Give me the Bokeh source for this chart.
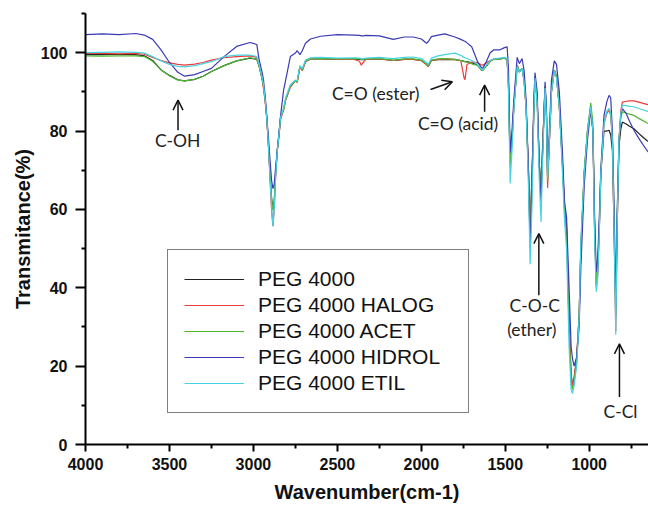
from bokeh.plotting import figure
from bokeh.models import (Range1d, FixedTicker, Legend, LegendItem, Label,
                          Arrow, OpenHead)
from bokeh.embed import file_html
from bokeh.resources import INLINE

# ---------------- data ----------------
wavenumber = [4000, 3900, 3800, 3700, 3650, 3600, 3550, 3500, 3450, 3410,
              3350, 3300, 3250, 3175, 3100, 3020, 2980, 2966, 2947, 2940,
              2930, 2920, 2910, 2900, 2892, 2884, 2876, 2868, 2858, 2848,
              2838, 2820, 2808, 2780, 2750, 2739, 2723, 2709, 2690, 2660,
              2600, 2500, 2400, 2368, 2358, 2345, 2330, 2250, 2167, 2100,
              2048, 2000, 1969, 1959, 1940, 1900, 1860, 1800, 1765, 1745,
              1740, 1728, 1700, 1692, 1665, 1643, 1635, 1613, 1590, 1570,
              1534, 1505, 1489, 1481, 1471, 1460, 1449, 1429, 1416, 1400,
              1388, 1376, 1362, 1352, 1340, 1330, 1323, 1310, 1298, 1287,
              1278, 1263, 1255, 1248, 1240, 1225, 1208, 1195, 1178, 1160,
              1147, 1135, 1120, 1108, 1100, 1090, 1075, 1060, 1050, 1030,
              1010, 991, 978, 968, 958, 950, 940, 931, 912, 895,
              882, 872, 862, 852, 842, 834, 823, 812, 803, 780,
              760, 734, 700, 657, 647]

peg_4000 = [99.5, 99.5, 99.6, 99.5, 99.2, 98.0, 95.6, 94.2, 93.1, 92.8,
            93.2, 94.0, 95.2, 96.7, 97.9, 98.6, 98.3, 96.5, 93.1, 91.3,
            88.0, 83.0, 76.0, 68.0, 63.0, 60.0, 62.0, 69.0, 75.0, 79.0,
            83.5, 85.5, 88.0, 91.4, 92.8, 92.6, 96.4, 95.6, 97.8, 98.4,
            98.4, 98.3, 98.3, 98.3, 98.2, 98.2, 98.3, 98.4, 98.0, 98.3,
            98.3, 98.0, 97.0, 96.5, 98.0, 98.2, 98.3, 98.2, 98.0, 97.8,
            97.7, 97.7, 97.4, 97.3, 96.8, 95.6, 95.5, 96.6, 97.8, 98.3,
            98.4, 98.6, 98.3, 92.0, 72.0, 78.0, 86.2, 96.8, 95.1, 96.0,
            93.0, 86.2, 70.0, 54.0, 70.0, 85.0, 93.8, 88.0, 72.0, 64.0,
            75.0, 91.3, 85.0, 68.0, 75.0, 90.0, 95.5, 94.0, 86.2, 72.0,
            60.0, 55.0, 30.0, 18.0, 15.0, 17.0, 22.0, 33.0, 50.0, 69.0,
            80.0, 86.2, 80.0, 55.0, 41.0, 44.0, 55.0, 69.0, 80.0, 80.0,
            80.2, 79.0, 75.0, 55.0, 33.0, 55.0, 76.0, 80.5, 82.3, 81.8,
            81.2, 80.6, 79.2, 77.6, 77.3]

peg_halog = [99.8, 99.8, 99.7, 99.8, 99.6, 98.8, 98.0, 97.4, 97.0, 96.8,
             97.1, 97.5, 98.1, 98.7, 99.0, 99.2, 98.8, 96.8, 93.0, 90.9,
             87.5, 83.0, 76.0, 67.0, 60.0, 55.7, 60.0, 68.0, 75.0, 78.5,
             83.0, 85.5, 88.0, 91.2, 92.8, 92.4, 96.3, 95.4, 97.6, 98.4,
             98.5, 98.3, 98.3, 97.8, 96.8, 97.6, 98.3, 98.4, 98.0, 98.3,
             98.3, 98.0, 97.0, 96.5, 98.0, 98.3, 98.4, 98.3, 98.0, 93.5,
             93.1, 97.0, 97.6, 97.6, 97.4, 96.9, 96.8, 97.4, 98.0, 98.3,
             98.4, 98.6, 98.3, 92.0, 72.0, 78.0, 86.2, 96.8, 95.1, 96.0,
             93.0, 86.2, 70.0, 55.0, 70.0, 85.0, 93.8, 88.0, 72.0, 65.0,
             76.0, 91.3, 84.0, 65.5, 74.0, 90.0, 95.5, 94.0, 86.2, 72.0,
             61.0, 56.0, 32.0, 18.0, 15.0, 17.0, 22.0, 33.0, 50.0, 69.0,
             80.0, 86.2, 80.0, 55.0, 40.0, 43.0, 55.0, 69.0, 81.9, 84.5,
             85.3, 84.0, 77.6, 55.0, 29.0, 55.0, 77.6, 85.0, 87.4, 87.6,
             87.7, 87.7, 87.3, 86.8, 86.7]

peg_acet = [99.2, 99.1, 99.2, 99.2, 99.0, 97.8, 95.6, 94.1, 93.0, 92.8,
            93.2, 94.0, 95.2, 96.7, 97.9, 98.7, 98.3, 96.5, 93.1, 91.4,
            88.0, 83.5, 76.5, 68.5, 63.0, 59.8, 62.0, 69.0, 75.0, 79.0,
            83.7, 85.4, 88.0, 91.5, 92.8, 92.6, 96.5, 95.6, 97.8, 98.4,
            98.5, 98.4, 98.5, 98.4, 98.3, 98.3, 98.4, 98.5, 98.1, 98.4,
            98.4, 98.1, 97.1, 96.6, 98.1, 98.4, 98.5, 98.3, 98.0, 97.8,
            97.7, 97.6, 97.2, 97.0, 96.8, 95.6, 95.5, 96.6, 97.8, 98.3,
            98.4, 98.6, 98.3, 92.0, 71.0, 77.0, 86.2, 96.8, 95.1, 96.0,
            93.0, 86.2, 69.0, 52.0, 68.0, 85.0, 93.8, 88.0, 72.0, 64.0,
            75.0, 91.3, 85.0, 67.0, 75.0, 90.0, 95.5, 94.0, 86.2, 72.0,
            59.8, 54.0, 30.0, 16.0, 14.0, 16.0, 21.0, 33.0, 50.0, 70.0,
            80.5, 87.2, 82.0, 57.0, 41.0, 45.0, 56.0, 70.0, 82.0, 85.0,
            85.7, 84.5, 78.0, 60.0, 36.0, 58.0, 77.6, 83.5, 84.9, 84.6,
            84.3, 84.0, 83.1, 82.1, 81.9]

peg_hidrol = [104.6, 104.8, 104.6, 104.9, 104.5, 103.4, 100.7, 97.5, 95.0, 94.0,
              94.4, 95.2, 96.0, 99.0, 101.6, 102.6, 102.1, 98.2, 94.8, 93.0,
              89.0, 83.5, 78.0, 72.0, 67.5, 65.3, 66.5, 70.5, 75.0, 79.4,
              84.0, 90.5, 93.0, 99.0, 99.9, 100.5, 99.5, 100.5, 102.4, 103.5,
              104.2, 104.6, 104.5, 104.4, 104.3, 104.3, 104.4, 104.3, 103.4, 104.0,
              104.0, 103.5, 102.4, 102.8, 104.1, 104.5, 104.8, 104.0, 103.4, 103.0,
              102.9, 102.5, 101.5, 100.7, 97.7, 96.2, 96.0, 97.7, 100.0, 100.7,
              100.7, 101.3, 101.5, 96.0, 74.5, 80.0, 88.0, 98.8, 97.2, 98.5,
              95.5, 88.0, 70.0, 50.0, 68.0, 88.0, 94.9, 90.0, 72.0, 62.0,
              74.0, 92.6, 86.0, 70.0, 77.0, 93.0, 97.9, 97.0, 90.0, 75.0,
              62.0, 58.0, 40.0, 25.0, 22.0, 20.0, 22.3, 30.0, 45.0, 66.0,
              78.0, 85.3, 80.0, 58.0, 44.0, 47.0, 58.0, 70.0, 84.0, 87.5,
              89.1, 88.5, 80.0, 60.0, 35.0, 58.0, 77.0, 84.0, 85.7, 84.5,
              82.5, 80.2, 77.8, 75.1, 74.6]

peg_etil = [100.0, 100.1, 100.2, 100.1, 99.9, 99.0, 97.9, 97.0, 96.5, 96.4,
            96.7, 97.2, 97.7, 99.0, 99.4, 99.4, 99.0, 96.8, 93.5, 91.8,
            88.0, 83.0, 76.0, 67.0, 61.0, 55.7, 60.0, 68.0, 75.0, 79.0,
            83.5, 86.0, 88.5, 91.8, 93.0, 92.8, 96.7, 95.9, 98.1, 98.7,
            98.8, 98.6, 98.7, 98.6, 98.5, 98.5, 98.6, 98.8, 98.5, 98.8,
            98.9, 98.5, 97.5, 97.0, 98.6, 99.2, 99.5, 99.9, 99.3, 98.8,
            98.7, 98.5, 98.0, 97.8, 97.0, 95.8, 95.6, 96.8, 98.0, 98.4,
            98.6, 98.8, 98.5, 90.0, 66.6, 75.0, 85.5, 96.5, 95.0, 96.0,
            92.5, 86.0, 66.0, 46.0, 62.0, 84.0, 93.5, 87.0, 68.0, 56.8,
            72.0, 91.0, 84.0, 68.0, 75.0, 90.0, 95.3, 93.5, 86.0, 70.0,
            57.0, 50.0, 25.0, 14.0, 13.0, 15.0, 20.0, 32.0, 52.0, 69.0,
            80.0, 86.2, 80.0, 52.0, 39.0, 42.0, 54.0, 69.0, 82.0, 85.0,
            85.7, 84.5, 77.6, 55.0, 28.0, 55.0, 77.6, 84.5, 86.6, 86.5,
            86.3, 86.2, 85.7, 85.1, 85.0]

series_names = ["PEG 4000", "PEG 4000 HALOG", "PEG 4000 ACET",
                "PEG 4000 HIDROL", "PEG 4000 ETIL"]
series_colors = ["#222222", "#f03a3a", "#4cb830", "#3a3ab4", "#45d2e2"]

x_major_ticks = [4000, 3500, 3000, 2500, 2000, 1500, 1000]
x_minor_ticks = [3750, 3250, 2750, 2250, 1750, 1250, 750]
y_major_ticks = [0, 20, 40, 60, 80, 100]
y_minor_ticks = [10, 30, 50, 70, 90, 110]

annotation_texts = ["C-OH", "C=O (ester)", "C=O (acid)", "C-O-C", "(ether)", "C-Cl"]

# ---------------- figure ----------------
p = figure(width=648, height=509, output_backend="svg", toolbar_location=None,
           x_range=Range1d(4000, 647), y_range=Range1d(0, 110),
           min_border_left=85, min_border_right=0, min_border_top=13,
           min_border_bottom=65)
p.outline_line_color = None
p.xgrid.visible = False
p.ygrid.visible = False
p.background_fill_color = "white"
p.border_fill_color = "white"

all_series = [peg_4000, peg_halog, peg_acet, peg_hidrol, peg_etil]
renderers = []
for vals, col in zip(all_series, series_colors):
    r = p.line(wavenumber, vals, line_color=col, line_width=1.2)
    renderers.append(r)

# axes
p.xaxis.ticker = FixedTicker(ticks=x_major_ticks, minor_ticks=x_minor_ticks)
p.yaxis.ticker = FixedTicker(ticks=y_major_ticks, minor_ticks=y_minor_ticks)
for ax in (p.xaxis[0], p.yaxis[0]):
    ax.axis_line_color = "black"
    ax.axis_line_width = 2
    ax.major_tick_line_color = "black"
    ax.major_tick_line_width = 2
    ax.minor_tick_line_color = "black"
    ax.minor_tick_line_width = 2
    ax.major_tick_in = 0
    ax.minor_tick_in = 0
    ax.minor_tick_out = 4
    ax.major_label_text_font = "Liberation Sans"
    ax.major_label_text_font_style = "bold"
    ax.major_label_text_font_size = "16px"
    ax.major_label_text_color = "#111111"
    ax.axis_label_text_font = "Liberation Sans"
    ax.axis_label_text_font_style = "bold"
    ax.axis_label_text_font_size = "20px"
    ax.axis_label_text_color = "#111111"

p.xaxis.major_tick_out = 7
p.yaxis.major_tick_out = 10
p.xaxis.major_label_standoff = 6
p.yaxis.major_label_standoff = 8
p.xaxis.axis_label = "Wavenumber(cm-1)"
p.yaxis.axis_label = "Transmitance(%)"
p.xaxis.axis_label_standoff = 8
p.yaxis.axis_label_standoff = 4

# legend
items = [LegendItem(label=n, renderers=[r]) for n, r in zip(series_names, renderers)]
legend = Legend(items=items, location=(82, 31), orientation="vertical",
                padding=16, spacing=0, margin=0,
                glyph_width=60, glyph_height=26, label_height=26,
                label_standoff=14, label_width=194,
                label_text_font="Liberation Sans", label_text_font_size="21px",
                label_text_color="#111111",
                border_line_color="black", border_line_width=1.5,
                background_fill_color="white", background_fill_alpha=1.0)
p.add_layout(legend, "center")

# annotations
ann_font = "Lato"
ann_pos = [(3451, 77.7), (2272, 89.7), (1781, 81.9), (1325, 35.5), (1342, 29.4), (814, 8.3)]
for txt, (ax_, ay_) in zip(annotation_texts, ann_pos):
    p.add_layout(Label(x=ax_, y=ay_, text=txt, text_align="center",
                       text_baseline="middle", text_font=ann_font,
                       text_font_size="17.5px", text_color="#222222"))

arrows = [(3449, 80.2, 3449, 87.9), (1945, 90.6, 1815, 92.6),
          (1623, 84.9, 1623, 91.7), (1300, 38.1, 1300, 53.8),
          (820, 12.1, 820, 25.7)]
for x0, y0, x1, y1 in arrows:
    p.add_layout(Arrow(end=OpenHead(size=10, line_width=1.5, line_color="#111111"),
                       x_start=x0, y_start=y0, x_end=x1, y_end=y1,
                       line_width=1.5, line_color="#111111"))

open("out.html", "w").write(file_html(p, INLINE))
